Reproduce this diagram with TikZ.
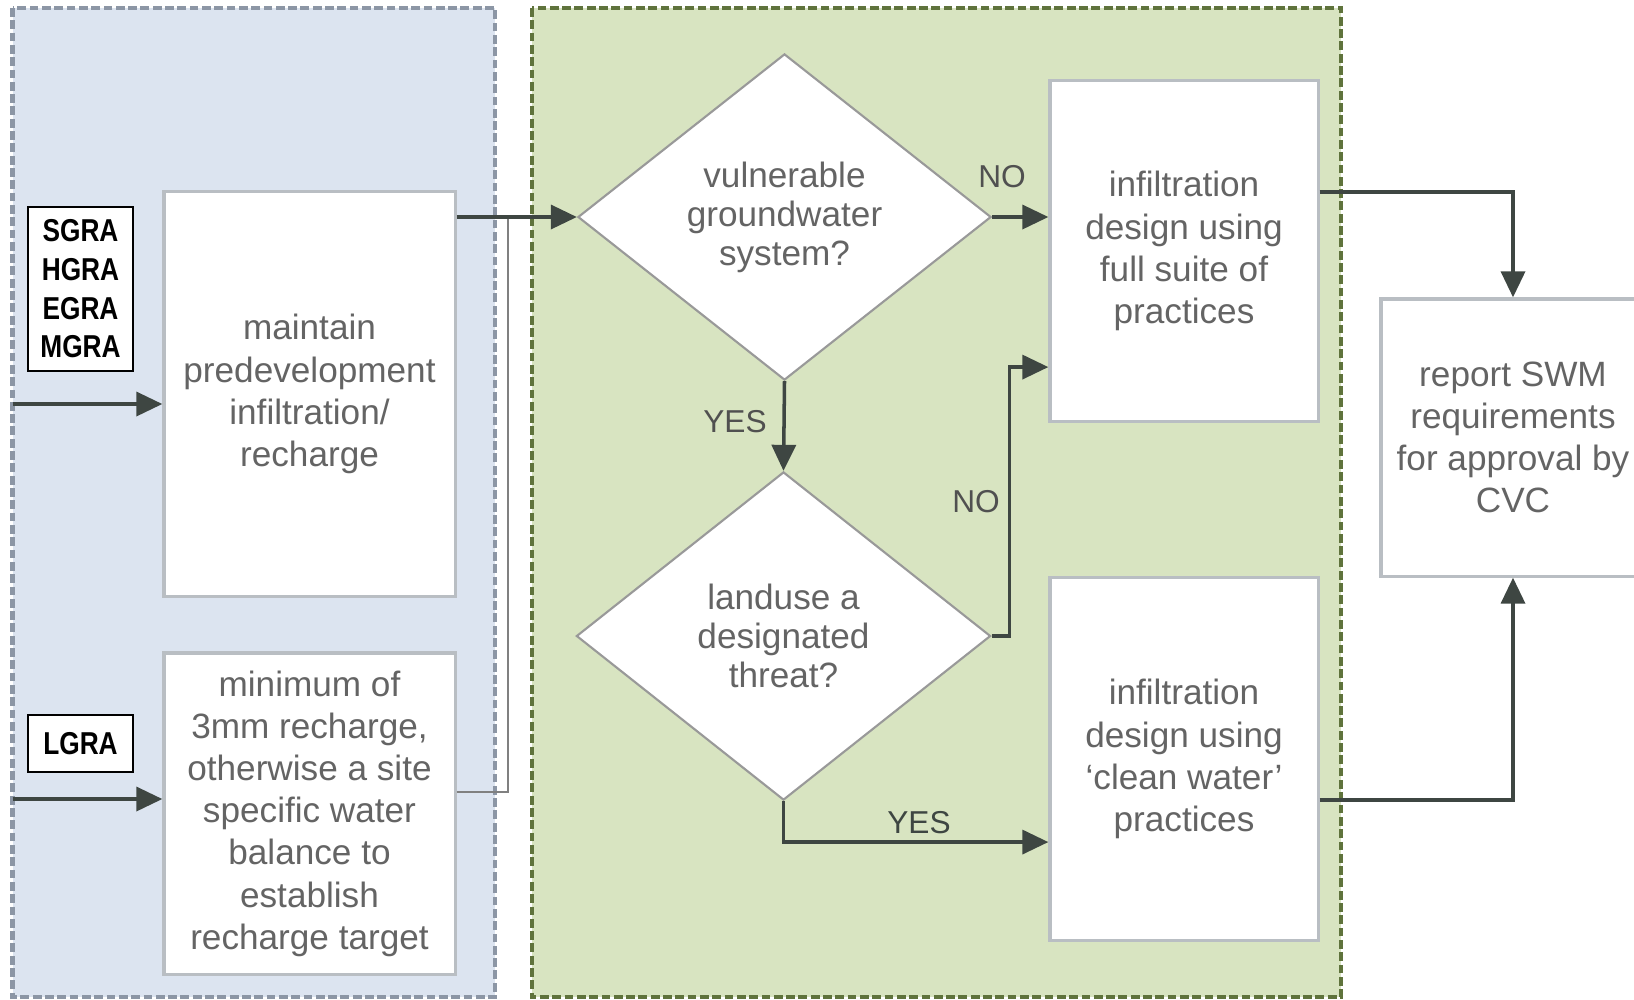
\documentclass[tikz,border=0pt]{standalone}
\usepackage{fontspec}
\setmainfont{Liberation Sans}
\newfontfamily\tagfont[FakeStretch=0.83]{Liberation Sans}
\usetikzlibrary{shapes.geometric,arrows.meta}
\definecolor{panelblue}{RGB}{220,228,240}
\definecolor{panelgreen}{RGB}{216,228,193}
\definecolor{bluedash}{RGB}{140,150,165}
\definecolor{greendash}{RGB}{95,115,60}
\definecolor{arrowgray}{RGB}{62,70,66}
\definecolor{boxedge}{RGB}{185,190,195}
\definecolor{textgray}{RGB}{100,100,100}

\begin{document}
\begin{tikzpicture}[
    x=0.01cm, y=-0.01cm,
    zone/.style={line width=1.2pt, dash pattern=on 2.5pt off 1pt},
    process/.style={draw=boxedge, fill=white, line width=0.9pt, align=center,
      text=textgray, inner sep=2pt},
    decision/.style={diamond, draw=gray!80, fill=white, line width=0.6pt,
      align=center, text=textgray, inner sep=0pt,
      font=\fontsize{10}{11.1}\selectfont},
    tag/.style={draw=black, fill=white, line width=0.7pt, align=center,
      inner sep=1pt, font=\tagfont\bfseries\fontsize{9}{11}\selectfont},
    answer/.style={text=textgray!80!black, font=\fontsize{9}{10}\selectfont},
    flow/.style={draw=arrowgray, line width=1pt,
      -{Triangle[length=2.6mm, width=2.4mm]}},
    link/.style={draw=gray, line width=0.6pt},
    font=\fontsize{10}{12}\selectfont,
  ]
    \useasboundingbox (0,0) rectangle (1634,999);
    \draw[zone, fill=panelblue, draw=bluedash] (12.5,8) rectangle (495,997);
    \draw[zone, fill=panelgreen, draw=greendash] (532,8) rectangle (1341,997);

    \node[tag, minimum width=1.05cm, minimum height=1.64cm] (gra) at (80.5,289) {SGRA\\HGRA\\EGRA\\MGRA};
    \node[tag, minimum width=1.05cm, minimum height=0.57cm] (lgra) at (80.5,743.5) {LGRA};

    \node[process, minimum width=2.91cm, minimum height=4.04cm] (maint) at (309.5,394)
      {maintain\\predevelopment\\infiltration/\\recharge};
    \node[process, minimum width=2.91cm, minimum height=3.21cm] (minrech) at (309.5,813.5)
      {minimum of\\3mm recharge,\\otherwise a site\\specific water\\balance to\\establish\\recharge target};

    \node[decision, minimum width=4.13cm, minimum height=3.26cm] (vuln) at (784.5,217)
      {vulnerable\\groundwater\\system?};
    \node[decision, minimum width=4.14cm, minimum height=3.28cm] (landuse) at (783.5,636)
      {landuse a\\designated\\threat?};

    \node[process, minimum width=2.68cm, minimum height=3.40cm] (fullsuite) at (1184,251)
      {infiltration\\design using\\full suite of\\practices};
    \node[process, minimum width=2.68cm, minimum height=3.62cm] (cleanwater) at (1184,759)
      {infiltration\\design using\\`clean water'\\practices};
    \node[process, minimum width=2.64cm, minimum height=2.77cm] (report) at (1513,437.5)
      {report SWM\\requirements\\for approval by\\CVC};

    \coordinate (graIn) at (12.5,404);
    \coordinate (lgraIn) at (12.5,799);
    \coordinate (merge) at (508,218);

    \draw[flow] (graIn) -- (graIn -| maint.west);
    \draw[flow] (lgraIn) -- (lgraIn -| minrech.west);
    \draw[link] ([yshift=2.15mm]minrech.east) -| (merge);
    \draw[flow] (vuln.west -| maint.east) -- (vuln.west);
    \draw[flow] (vuln.east) -- (vuln.east -| fullsuite.west);
    \draw[flow] (vuln.south) -- (landuse.north);
    \draw[flow] (landuse.east) -- ++(18,0) |- ([yshift=-11.6mm]fullsuite.west);
    \draw[flow] (landuse.south) |- ([yshift=-8.3mm]cleanwater.west);
    \draw[flow] ([yshift=5.9mm]fullsuite.east) -| (report.north);
    \draw[flow] ([yshift=-4.1mm]cleanwater.east) -| (report.south);

    \node[answer] (noVuln) at (1002,177) {NO};
    \node[answer] (yesVuln) at (735,422) {YES};
    \node[answer] (noLand) at (976,502) {NO};
    \node[answer, text=arrowgray] (yesLand) at (919,823) {YES};
  \end{tikzpicture}
\end{document}
